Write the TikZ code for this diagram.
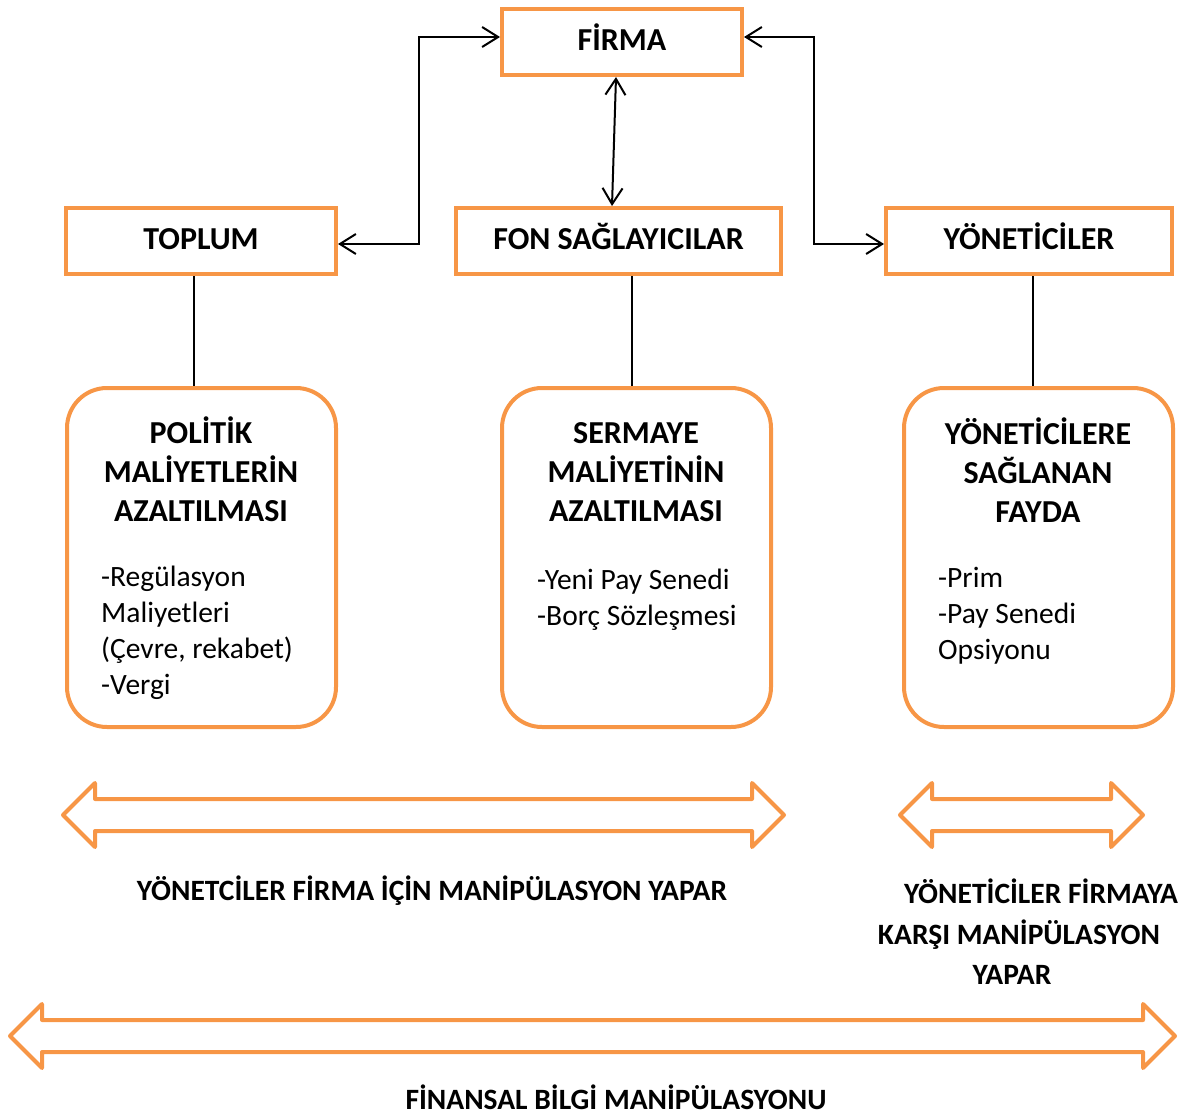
\documentclass[tikz,border=0pt]{standalone}
\usepackage{fontspec}
\setmainfont{Carlito}
\usepackage{tikz}
\usetikzlibrary{arrows.meta}
\usetikzlibrary{positioning}
\usepackage{xcolor}
\definecolor{turuncu}{HTML}{F79646}

\newcommand{\kalinok}[3]{% left x, right x, middle y
  \draw[okkutu] (#1,#3) -- (#1+32,#3-32) -- (#1+32,#3-16) -- (#2-32,#3-16)
    -- (#2-32,#3-32) -- (#2,#3) -- (#2-32,#3+32) -- (#2-32,#3+16)
    -- (#1+32,#3+16) -- (#1+32,#3+32) -- cycle;}

\tikzset{
  kutu/.style={draw=turuncu, line width=4pt, minimum height=66pt, inner sep=0pt,
    text height=20.6pt, text depth=4pt,
    font=\bfseries\fontsize{32}{38}\selectfont},
  yuvarlak/.style={draw=turuncu, line width=4pt, rounded corners=40pt,
    minimum width=269pt, minimum height=339pt},
  baslik/.style={align=center, inner sep=0pt, font=\bfseries\fontsize{32}{39}\selectfont},
  madde/.style={align=left, inner sep=0pt, anchor=north west, font=\fontsize{29.5}{36}\selectfont},
  etiket/.style={align=center, inner sep=0pt, font=\bfseries\fontsize{29.5}{40.5}\selectfont},
  cift/.style={{Straight Barb[length=16pt,width=20pt]}-{Straight Barb[length=16pt,width=20pt]}, line width=2pt},
  okkutu/.style={draw=turuncu, line width=4pt, line join=round}
}

\begin{document}
\begin{tikzpicture}[x=1pt, y=-1pt]
  \useasboundingbox (0,0) rectangle (1190,1115);

  % ust kutular
  \node[kutu, minimum width=240pt] (firma) at (622,42) {FİRMA};
  \node[kutu, minimum width=270pt] (toplum) at (201,241) {TOPLUM};
  \node[kutu, minimum width=325pt] (fon) at (618.5,241) {FON SAĞLAYICILAR};
  \node[kutu, minimum width=286pt] (yonetici) at (1029,241) {YÖNETİCİLER};

  % yuvarlak kutular
  \node[yuvarlak] (politik) at (201.5,557.5) {};
  \node[yuvarlak] (sermaye) at (636.5,557.5) {};
  \node[yuvarlak] (fayda) at (1038.5,557.5) {};

  \node[baslik] (politikB) at (201,469) {POLİTİK\\MALİYETLERİN\\AZALTILMASI};
  \node[baslik] (sermayeB) at (636,472) {SERMAYE\\MALİYETİNİN\\AZALTILMASI};
  \node[baslik] (faydaB) at (1038,470) {YÖNETİCİLERE\\SAĞLANAN\\FAYDA};

  \node[madde] (politikM) at (101,566) {-Regülasyon\\Maliyetleri\\(Çevre, rekabet)\\-Vergi};
  \node[madde] (sermayeM) at (537,569) {-Yeni Pay Senedi\\-Borç Sözleşmesi};
  \node[madde] (faydaM) at (938,567) {-Prim\\-Pay Senedi\\Opsiyonu};

  % baglantilar
  \draw[cift] ([yshift=-3pt]toplum.east) -- ++(81,0) |- ([yshift=5pt]firma.west);
  \draw[cift] ([yshift=5pt]firma.east) -- ++(70,0) |- ([yshift=-3pt]yonetici.west);
  \draw[cift] ([xshift=-6pt]firma.south) -- ([xshift=-6.5pt]fon.north);

  \draw[line width=2pt] ([xshift=-7pt]toplum.south) -- ([xshift=-7pt]toplum.south |- politik.north);
  \draw[line width=2pt] ([xshift=13.5pt]fon.south) -- ([xshift=13.5pt]fon.south |- sermaye.north);
  \draw[line width=2pt] ([xshift=4pt]yonetici.south) -- ([xshift=4pt]yonetici.south |- fayda.north);

  % kalin oklar
  \kalinok{63}{784}{815}
  \kalinok{900}{1143}{815}
  \kalinok{10}{1175}{1036}

  \node[etiket] (icin) at (432,891) {YÖNETCİLER FİRMA İÇİN MANİPÜLASYON YAPAR};
  \node[etiket] (karsi) at (1019,932) {\hspace*{44pt}YÖNETİCİLER FİRMAYA\\KARŞI MANİPÜLASYON\\YAPAR\hspace*{14pt}};
  \node[etiket] (finansal) at (616,1097) {FİNANSAL BİLGİ MANİPÜLASYONU};

\end{tikzpicture}
\end{document}
